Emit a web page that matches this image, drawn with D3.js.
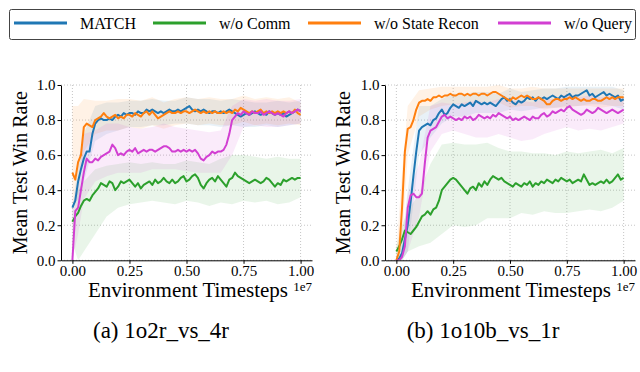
<!DOCTYPE html>
<html>
<head>
<style>
body { margin: 0; background: #fff; }
svg text { font-family: "Liberation Serif", "DejaVu Serif", serif !important; fill: #000; }
.grid line { stroke: #b8b8b8; stroke-width: 0.8; stroke-dasharray: 1,2; }
.axis path, .axis line { stroke: #000; stroke-width: 1; }
.axis text { font-size: 15px; }
</style>
</head>
<body>
<script src="https://d3js.org/d3.v7.min.js"></script>
<script>

const W = 640, H = 372;

// legend / series names and colours
const names = ["MATCH", "w/o Comm", "w/o State Recon", "w/o Query"];
const colors = ["#1f77b4", "#2ca02c", "#ff7f0e", "#d23fd2"];

// x axis in units of 1e7 timesteps, 81 samples
const steps = d3.range(81).map(i => i / 80);
const xTicks = [0, 0.25, 0.5, 0.75, 1.0];
const yTicks = [0, 0.2, 0.4, 0.6, 0.8, 1.0];

// (a) 1o2r_vs_4r means
const aMatch = [0.30,0.34,0.45,0.52,0.58,0.62,0.62,0.72,0.78,0.80,0.81,0.80,0.80,0.81,0.80,0.82,0.83,0.82,0.84,0.83,
  0.84,0.84,0.83,0.85,0.84,0.84,0.86,0.85,0.86,0.85,0.84,0.85,0.84,0.85,0.86,0.85,0.85,0.86,0.85,0.86,
  0.87,0.88,0.86,0.85,0.86,0.85,0.86,0.85,0.84,0.85,0.85,0.84,0.85,0.84,0.85,0.86,0.85,0.84,0.83,0.82,
  0.83,0.84,0.83,0.84,0.85,0.84,0.83,0.84,0.83,0.85,0.84,0.83,0.84,0.83,0.84,0.82,0.83,0.84,0.85,0.86,0.85];
const aComm = [0.22,0.25,0.27,0.31,0.34,0.35,0.34,0.37,0.39,0.41,0.44,0.43,0.42,0.45,0.44,0.40,0.42,0.45,0.44,0.45,
  0.46,0.44,0.42,0.44,0.41,0.43,0.44,0.45,0.43,0.46,0.44,0.45,0.47,0.45,0.44,0.46,0.44,0.45,0.47,0.48,
  0.45,0.46,0.48,0.49,0.47,0.43,0.41,0.44,0.46,0.47,0.45,0.48,0.46,0.44,0.42,0.46,0.47,0.50,0.48,0.47,
  0.46,0.45,0.44,0.45,0.46,0.45,0.44,0.45,0.47,0.46,0.44,0.42,0.44,0.43,0.46,0.45,0.46,0.47,0.46,0.47,0.47];
const aRecon = [0.50,0.46,0.56,0.60,0.76,0.78,0.77,0.76,0.80,0.81,0.82,0.84,0.82,0.81,0.82,0.83,0.81,0.82,0.81,0.83,
  0.83,0.82,0.84,0.83,0.82,0.84,0.85,0.83,0.85,0.83,0.81,0.82,0.83,0.84,0.85,0.84,0.84,0.85,0.84,0.85,
  0.85,0.84,0.85,0.86,0.85,0.84,0.85,0.84,0.85,0.84,0.85,0.84,0.84,0.85,0.84,0.85,0.84,0.86,0.85,0.87,
  0.86,0.85,0.84,0.85,0.84,0.85,0.86,0.84,0.85,0.84,0.85,0.84,0.85,0.84,0.85,0.84,0.85,0.84,0.86,0.84,0.83];
const aQuery = [0.00,0.28,0.30,0.40,0.50,0.58,0.56,0.56,0.58,0.57,0.59,0.60,0.61,0.62,0.66,0.64,0.60,0.61,0.60,0.62,
  0.63,0.62,0.64,0.61,0.62,0.63,0.62,0.63,0.63,0.62,0.63,0.64,0.65,0.65,0.64,0.62,0.62,0.63,0.62,0.63,
  0.62,0.63,0.62,0.63,0.61,0.58,0.57,0.59,0.60,0.62,0.61,0.62,0.62,0.63,0.66,0.72,0.80,0.82,0.84,0.83,
  0.85,0.84,0.83,0.85,0.84,0.84,0.85,0.83,0.84,0.85,0.84,0.83,0.84,0.83,0.82,0.84,0.85,0.84,0.85,0.86,0.85];

// (b) 1o10b_vs_1r means
const bMatch = [0.00,0.01,0.04,0.12,0.20,0.33,0.48,0.62,0.74,0.76,0.77,0.78,0.77,0.80,0.81,0.84,0.86,0.83,0.84,0.87,
  0.89,0.88,0.87,0.89,0.88,0.89,0.90,0.88,0.91,0.90,0.89,0.90,0.89,0.90,0.89,0.88,0.90,0.92,0.93,0.91,
  0.92,0.90,0.89,0.91,0.90,0.91,0.93,0.92,0.93,0.91,0.93,0.92,0.93,0.92,0.93,0.94,0.93,0.92,0.94,0.93,
  0.94,0.95,0.93,0.94,0.94,0.95,0.96,0.97,0.94,0.95,0.93,0.94,0.95,0.96,0.94,0.95,0.94,0.93,0.94,0.91,0.92];
const bComm = [0.05,0.08,0.12,0.17,0.16,0.15,0.17,0.19,0.22,0.25,0.26,0.28,0.26,0.29,0.30,0.34,0.40,0.42,0.44,0.46,
  0.47,0.46,0.44,0.42,0.40,0.38,0.41,0.42,0.40,0.44,0.42,0.45,0.43,0.46,0.48,0.47,0.46,0.47,0.45,0.44,
  0.43,0.42,0.44,0.43,0.42,0.44,0.43,0.45,0.42,0.44,0.43,0.45,0.44,0.46,0.45,0.44,0.46,0.45,0.47,0.46,
  0.45,0.46,0.44,0.45,0.46,0.45,0.49,0.46,0.43,0.44,0.43,0.44,0.45,0.44,0.46,0.44,0.45,0.47,0.49,0.46,0.47];
const bRecon = [0.00,0.05,0.30,0.62,0.75,0.76,0.80,0.86,0.90,0.91,0.91,0.92,0.91,0.93,0.93,0.94,0.93,0.94,0.94,0.95,
  0.94,0.94,0.95,0.95,0.94,0.95,0.94,0.95,0.95,0.94,0.95,0.95,0.94,0.95,0.96,0.96,0.95,0.94,0.93,0.92,
  0.91,0.93,0.92,0.93,0.94,0.93,0.94,0.93,0.92,0.92,0.93,0.92,0.91,0.89,0.89,0.91,0.92,0.92,0.91,0.92,
  0.92,0.93,0.92,0.93,0.92,0.91,0.92,0.91,0.91,0.92,0.92,0.91,0.91,0.92,0.93,0.92,0.93,0.92,0.93,0.93,0.93];
const bQuery = [0.00,0.00,0.02,0.08,0.30,0.37,0.38,0.36,0.36,0.38,0.55,0.70,0.74,0.75,0.76,0.79,0.82,0.83,0.81,0.82,
  0.81,0.80,0.81,0.80,0.82,0.81,0.82,0.80,0.81,0.83,0.82,0.81,0.82,0.81,0.83,0.82,0.84,0.83,0.82,0.81,
  0.82,0.80,0.81,0.80,0.81,0.82,0.81,0.80,0.82,0.81,0.81,0.83,0.84,0.82,0.83,0.85,0.84,0.85,0.86,0.85,
  0.87,0.88,0.86,0.85,0.84,0.83,0.84,0.86,0.85,0.84,0.85,0.87,0.86,0.85,0.84,0.85,0.86,0.85,0.84,0.85,0.86];

// shaded bands (lower / upper) sampled coarser
const bandSteps = [0,0.025,0.05,0.1,0.15,0.2,0.25,0.3,0.35,0.4,0.45,0.5,0.55,0.6,0.65,0.7,0.75,0.8,0.85,0.9,0.95,1.0];

const aMatchLo = [0.30,0.35,0.45,0.68,0.72,0.74,0.76,0.76,0.77,0.77,0.78,0.78,0.77,0.77,0.76,0.77,0.76,0.76,0.77,0.76,0.77,0.78];
const aMatchHi = [0.30,0.55,0.72,0.88,0.90,0.90,0.91,0.91,0.92,0.91,0.91,0.93,0.92,0.92,0.91,0.92,0.91,0.90,0.90,0.91,0.90,0.91];
const aCommLo  = [0.10,0.00,0.05,0.15,0.25,0.30,0.32,0.33,0.34,0.33,0.32,0.34,0.33,0.31,0.33,0.32,0.34,0.33,0.34,0.32,0.33,0.36];
const aCommHi  = [0.30,0.40,0.45,0.52,0.54,0.55,0.56,0.55,0.56,0.55,0.55,0.57,0.56,0.55,0.58,0.60,0.60,0.59,0.58,0.59,0.58,0.58];
const aReconLo = [0.30,0.38,0.62,0.72,0.74,0.74,0.76,0.75,0.77,0.75,0.77,0.78,0.77,0.78,0.77,0.77,0.79,0.77,0.78,0.77,0.78,0.77];
const aReconHi = [0.88,0.88,0.92,0.91,0.91,0.92,0.92,0.91,0.93,0.90,0.92,0.93,0.92,0.93,0.92,0.92,0.94,0.92,0.93,0.92,0.93,0.90];
const aQueryLo = [0.00,0.15,0.35,0.45,0.48,0.50,0.50,0.50,0.52,0.52,0.52,0.51,0.50,0.50,0.50,0.60,0.76,0.77,0.76,0.76,0.77,0.78];
const aQueryHi = [0.30,0.45,0.72,0.74,0.78,0.78,0.76,0.75,0.76,0.78,0.76,0.75,0.74,0.73,0.74,0.88,0.92,0.91,0.92,0.91,0.91,0.92];

const bMatchLo = [0.00,0.00,0.05,0.60,0.70,0.78,0.82,0.82,0.84,0.84,0.84,0.86,0.85,0.86,0.87,0.87,0.88,0.88,0.89,0.89,0.88,0.86];
const bMatchHi = [0.00,0.10,0.40,0.88,0.88,0.92,0.95,0.95,0.96,0.96,0.95,0.98,0.96,0.97,0.98,0.98,0.99,0.99,0.99,0.99,0.99,0.97];
const bCommLo  = [0.00,0.00,0.05,0.08,0.10,0.15,0.20,0.19,0.20,0.24,0.24,0.24,0.27,0.26,0.28,0.27,0.27,0.28,0.29,0.28,0.30,0.34];
const bCommHi  = [0.08,0.20,0.28,0.38,0.55,0.66,0.67,0.66,0.66,0.67,0.64,0.62,0.62,0.61,0.61,0.60,0.62,0.61,0.62,0.63,0.61,0.64];
const bReconLo = [0.00,0.10,0.60,0.82,0.86,0.88,0.89,0.89,0.90,0.90,0.90,0.87,0.88,0.88,0.86,0.87,0.87,0.88,0.88,0.87,0.88,0.88];
const bReconHi = [0.05,0.50,0.88,0.97,0.98,0.99,0.99,0.99,0.99,0.99,1.00,0.98,0.98,0.99,0.98,0.98,0.98,0.98,0.98,0.98,0.98,0.98];
const bQueryLo = [0.00,0.00,0.05,0.25,0.62,0.72,0.74,0.72,0.70,0.70,0.72,0.70,0.68,0.69,0.72,0.74,0.76,0.74,0.75,0.74,0.76,0.78];
const bQueryHi = [0.00,0.05,0.38,0.55,0.88,0.90,0.89,0.90,0.91,0.90,0.92,0.91,0.91,0.90,0.92,0.92,0.95,0.93,0.94,0.93,0.94,0.93];

const panels = [
  { x0: 61, x1: 312, ylab: 20, caption: "(a) 1o2r_vs_4r", capX: 161,
    means: [aMatch, aComm, aRecon, aQuery],
    lo: [aMatchLo, aCommLo, aReconLo, aQueryLo],
    hi: [aMatchHi, aCommHi, aReconHi, aQueryHi] },
  { x0: 385, x1: 635, ylab: 343, caption: "(b) 1o10b_vs_1r", capX: 483,
    means: [bMatch, bComm, bRecon, bQuery],
    lo: [bMatchLo, bCommLo, bReconLo, bQueryLo],
    hi: [bMatchHi, bCommHi, bReconHi, bQueryHi] }
];

const svg = d3.select("body").append("svg")
  .attr("width", W).attr("height", H);

const yTop = 85, yBot = 260.3;

panels.forEach((p, pi) => {
  const x = d3.scaleLinear().domain([-0.05, 1.05]).range([p.x0, p.x1]);
  const y = d3.scaleLinear().domain([0, 1]).range([yBot, yTop]);
  const g = svg.append("g");

  const clipId = "clip" + pi;
  g.append("clipPath").attr("id", clipId)
    .append("rect").attr("x", p.x0).attr("y", yTop)
    .attr("width", p.x1 - p.x0).attr("height", yBot - yTop);

  // grid
  const grid = g.append("g").attr("class", "grid");
  grid.selectAll(".gx").data(xTicks).enter().append("line")
    .attr("x1", d => x(d)).attr("x2", d => x(d))
    .attr("y1", yTop).attr("y2", yBot);
  grid.selectAll(".gy").data(yTicks).enter().append("line")
    .attr("x1", p.x0).attr("x2", p.x1)
    .attr("y1", d => y(d)).attr("y2", d => y(d));

  const plot = g.append("g").attr("clip-path", `url(#${clipId})`);

  // bands
  p.means.forEach((m, si) => {
    const pts = bandSteps.map((s, i) => [s, p.lo[si][i], p.hi[si][i]]);
    plot.append("path")
      .datum(pts)
      .attr("fill", colors[si])
      .attr("fill-opacity", 0.1)
      .attr("d", d3.area().x(d => x(d[0])).y0(d => y(d[1])).y1(d => y(d[2])));
  });

  // mean lines
  p.means.forEach((m, si) => {
    plot.append("path")
      .datum(m.map((v, i) => [steps[i], v]))
      .attr("fill", "none")
      .attr("stroke", colors[si])
      .attr("stroke-width", 2)
      .attr("stroke-linejoin", "round")
      .attr("d", d3.line().x(d => x(d[0])).y(d => y(d[1])));
  });

  // axes
  g.append("g").attr("class", "axis")
    .attr("transform", `translate(0,${yBot})`)
    .call(d3.axisBottom(x).tickValues(xTicks).tickFormat(d3.format(".2f")).tickSize(3.5).tickSizeOuter(0).tickPadding(2));
  g.append("g").attr("class", "axis")
    .attr("transform", `translate(${p.x0},0)`)
    .call(d3.axisLeft(y).tickValues(yTicks).tickFormat(d3.format(".1f")).tickSize(3.5).tickSizeOuter(0).tickPadding(2));

  // labels
  g.append("text")
    .attr("transform", `translate(${p.ylab},${(yTop + yBot) / 2}) rotate(-90)`)
    .attr("text-anchor", "middle").attr("dy", "0.35em")
    .style("font-size", "20px")
    .text("Mean Test Win Rate");
  g.append("text")
    .attr("x", p.x1 - 24).attr("y", 297)
    .attr("text-anchor", "end")
    .style("font-size", "21px")
    .text("Environment Timesteps");
  g.append("text")
    .attr("x", p.x1).attr("y", 291)
    .attr("text-anchor", "end")
    .style("font-size", "13px")
    .text("1e7");
  g.append("text")
    .attr("x", p.capX).attr("y", 338)
    .attr("text-anchor", "middle")
    .style("font-size", "23px")
    .text(p.caption);
});

// legend
const legend = svg.append("g");
legend.append("rect")
  .attr("x", 9.5).attr("y", 9.5).attr("width", 626).attr("height", 30)
  .attr("rx", 2).attr("fill", "#fff").attr("stroke", "#444").attr("stroke-width", 1);
const legX = [14, 153, 308, 498];
names.forEach((n, i) => {
  legend.append("line")
    .attr("x1", legX[i]).attr("x2", legX[i] + 53)
    .attr("y1", 23).attr("y2", 23)
    .attr("stroke", colors[i]).attr("stroke-width", 3);
  legend.append("text")
    .attr("x", legX[i] + 66).attr("y", 29)
    .style("font-size", "16px")
    .text(n);
});

</script>
</body>
</html>
